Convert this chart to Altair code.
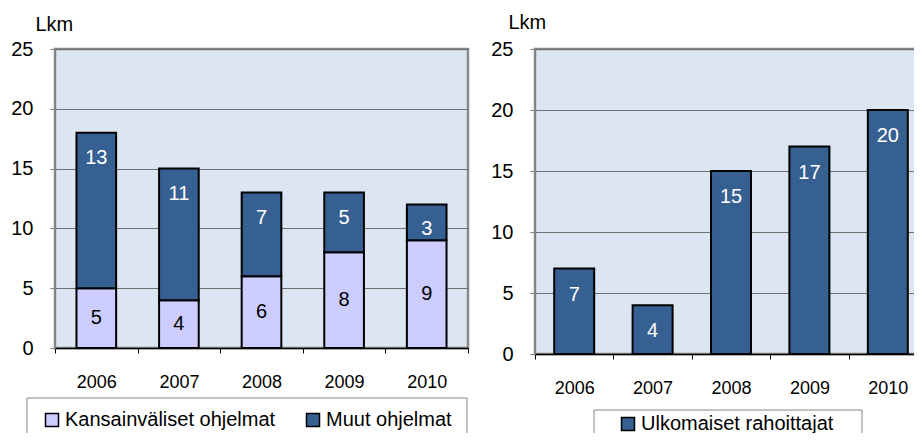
import altair as alt
import pandas as pd

years = ["2006", "2007", "2008", "2009", "2010"]
kansainvaliset = [5, 4, 6, 8, 9]
muut = [13, 11, 7, 5, 3]
ulkomaiset = [7, 4, 15, 17, 20]

series_left = ["Kansainväliset ohjelmat", "Muut ohjelmat"]
series_right = ["Ulkomaiset rahoittajat"]
y_ticks = [0, 5, 10, 15, 20, 25]

LIGHT = "#CCCCFF"
DARK = "#376092"
FONT = "Liberation Sans"

# ---- left data (stacked) ----
rows = []
for yr, k, m in zip(years, kansainvaliset, muut):
    rows.append({"year": yr, "series": series_left[0], "y0": 0, "y1": k,
                 "val": k, "mid": k / 2, "top": k})
    rows.append({"year": yr, "series": series_left[1], "y0": k, "y1": k + m,
                 "val": m, "mid": k + m / 2, "top": k + m})
left_df = pd.DataFrame(rows)
right_df = pd.DataFrame({"year": years, "series": series_right * len(years),
                         "val": ulkomaiset})
one = pd.DataFrame({"a": [0]})


def x_enc():
    return alt.X("year:N", sort=years,
                 scale=alt.Scale(paddingInner=0, paddingOuter=0),
                 axis=alt.Axis(title=None, labelAngle=0, labelFontSize=18,
                               labelColor="black", labelPadding=20,
                               tickBand="extent", tickSize=5, tickColor="black",
                               domainColor="black", domainWidth=1.5, grid=False))


def y_axis(tx, ty):
    return alt.Axis(values=y_ticks, title="Lkm", titleAngle=0, titleAlign="left",
                    titleBaseline="alphabetic", titleX=tx, titleY=ty,
                    titleFontSize=20, titleFontWeight="normal", titleColor="black",
                    labelFontSize=20, labelColor="black", labelPadding=17,
                    tickSize=5, tickColor="#808080", domainColor="#808080",
                    grid=True, gridColor="#707070", gridWidth=1)


def legend(lx, ly, colpad):
    return alt.Legend(orient="none", legendX=lx, legendY=ly, direction="horizontal",
                      title=None, symbolType="square", symbolSize=169,
                      symbolStrokeColor="black", symbolStrokeWidth=1.5,
                      labelFontSize=20, labelColor="black", labelOffset=3,
                      labelLimit=500, columnPadding=colpad, padding=0)


yscale = alt.Scale(domain=[0, 25], nice=False)

# ---- left chart ----
lbox = alt.Chart(one).mark_rect(fill="white", stroke="#888888", strokeWidth=1).encode(
    x=alt.value(-28), x2=alt.value(412), y=alt.value(349), y2=alt.value(440))

lbars = alt.Chart(left_df).mark_bar(width={"band": 0.48}, stroke="black",
                                   strokeWidth=2).encode(
    x=x_enc(),
    y=alt.Y("y0:Q", scale=yscale, axis=y_axis(-20, -19)),
    y2="y1:Q",
    color=alt.Color("series:N", sort=series_left,
                    scale=alt.Scale(domain=series_left, range=[LIGHT, DARK]),
                    legend=legend(-13, 361, 27)),
)

llab_light = alt.Chart(left_df).transform_filter(
    alt.datum.series == series_left[0]).mark_text(
    fontSize=20, color="black", baseline="middle").encode(
    x=alt.X("year:N", sort=years), y="mid:Q", text="val:Q")

llab_dark = alt.Chart(left_df).transform_filter(
    alt.datum.series == series_left[1]).mark_text(
    fontSize=20, color="white", baseline="middle", dy=25).encode(
    x=alt.X("year:N", sort=years), y="top:Q", text="val:Q")

left = alt.layer(lbox, lbars, llab_light, llab_dark).properties(width=413, height=299)

# ---- right chart ----
rbox = alt.Chart(one).mark_rect(fill="white", stroke="#888888", strokeWidth=1).encode(
    x=alt.value(59), x2=alt.value(327), y=alt.value(361), y2=alt.value(440))

rbars = alt.Chart(right_df).mark_bar(width={"band": 0.51}, stroke="black",
                                    strokeWidth=2).encode(
    x=x_enc(),
    y=alt.Y("val:Q", scale=yscale, axis=y_axis(-27, -21)),
    color=alt.Color("series:N",
                    scale=alt.Scale(domain=series_right, range=[DARK]),
                    legend=legend(83, 365, 27)),
)

rlab = alt.Chart(right_df).mark_text(fontSize=20, color="white", baseline="middle",
                                     dy=26).encode(
    x=alt.X("year:N", sort=years), y="val:Q", text="val:Q")

right = alt.layer(rbox, rbars, rlab).properties(width=392, height=305)

chart = alt.hconcat(left, right, spacing=19).resolve_scale(
    color="independent", x="independent", y="independent"
).properties(
    autosize=alt.AutoSizeParams(type="none"),
    padding={"left": 47, "top": 41, "right": 859, "bottom": 384}
).configure(font=FONT).configure_view(
    fill="#DCE6F2", stroke="#8A8A8A", strokeWidth=2.5
)

chart.save("out.html", embed_options={"renderer": "svg", "actions": False})
